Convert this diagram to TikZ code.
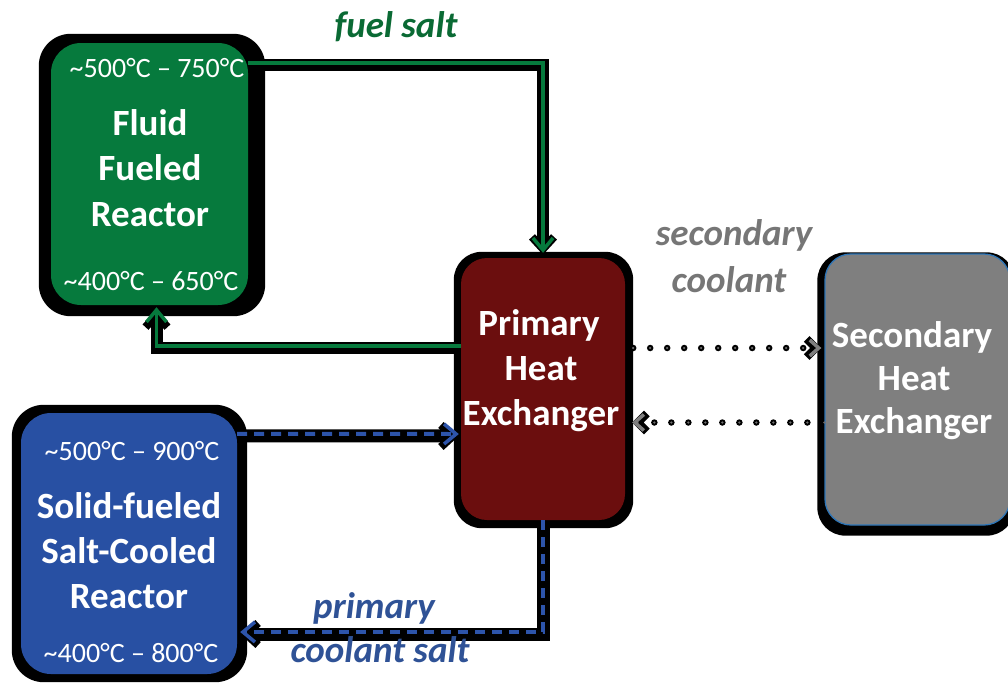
\documentclass[tikz,border=0pt]{standalone}
\usepackage{fontspec}
\setmainfont{Carlito}
\usetikzlibrary{calc,arrows.meta}
\pgfdeclarelayer{bg}
\pgfsetlayers{bg,main}
\definecolor{ffgreen}{RGB}{6,122,61}
\definecolor{lblgreen}{RGB}{10,106,52}
\definecolor{hxred}{RGB}{107,14,14}
\definecolor{sfblue}{RGB}{40,80,163}
\definecolor{lnblue}{RGB}{45,84,170}
\definecolor{lblblue}{RGB}{47,82,150}
\definecolor{hxgray}{RGB}{127,127,127}
\definecolor{lblgray}{RGB}{118,118,118}
\definecolor{bordblue}{RGB}{46,117,182}
\definecolor{dotgray}{RGB}{110,110,110}
\tikzset{
  box/.style={rectangle, rounded corners=30pt, inner sep=0pt},
  ttl/.style={anchor=base, text=white, inner sep=0pt, font=\bfseries\fontsize{37}{44}\selectfont},
  tmp/.style={anchor=base, text=white, inner sep=0pt, font=\fontsize{28}{33}\selectfont},
  lbl/.style={anchor=base, inner sep=0pt, font=\bfseries\itshape\fontsize{37}{44}\selectfont},
  shd/.style={draw=black, line width=12pt, transform canvas={yshift=-2pt}},
  solidtip/.style={-{Straight Barb[length=12pt,width=20pt,line width=3.5pt]}},
  shdtip/.style={-{Straight Barb[length=12pt,width=22pt,line width=8pt]}},
  gline/.style={draw=ffgreen, line width=3.5pt, solidtip},
  bline/.style={draw=lnblue, line width=4pt, dash pattern=on 10pt off 7pt, solidtip},
  dshd/.style={draw=black, line width=6.5pt, line cap=round, dash pattern=on 0pt off 17pt,
    -{Straight Barb[length=9pt,width=18pt,line width=8pt]}},
  dline/.style={draw=dotgray, line width=2.5pt, line cap=round, dash pattern=on 0pt off 17pt,
    -{Straight Barb[length=9pt,width=16pt,line width=3.5pt,color=hxgray]}},
}
\begin{document}
\begin{tikzpicture}[x=1pt,y=-1pt]
\useasboundingbox (0,0) rectangle (1008,683);

% boxes
\node[box, fill=ffgreen, minimum width=197pt, minimum height=262pt] (green) at (149.5,174) {};
\node[box, fill=hxred, rounded corners=26pt, minimum width=164pt, minimum height=262pt] (red) at (543,389) {};
\node[box, fill=sfblue, minimum width=216pt, minimum height=261pt] (blue) at (129,543.5) {};
\node[box, fill=hxgray, draw=bordblue, line width=1.3pt, rounded corners=26pt, minimum width=185pt, minimum height=271pt] (gray) at (917.5,389.5) {};

% texts in boxes
\node[tmp] (gt) at (157,77) {\textasciitilde500°C – 750°C};
\node[ttl] (g1) at (150,135) {Fluid};
\node[ttl] (g2) at (150,180) {Fueled};
\node[ttl] (g3) at (150,226) {Reactor};
\node[tmp] (gb) at (151,290) {\textasciitilde400°C – 650°C};

\node[ttl] (r1) at (539,335) {Primary};
\node[ttl] (r2) at (541,380) {Heat};
\node[ttl] (r3) at (541,425) {Exchanger};

\node[tmp] (bt) at (132,460) {\textasciitilde500°C – 900°C};
\node[ttl] (b1) at (129,518) {Solid-fueled};
\node[ttl] (b2) at (129,563) {Salt-Cooled};
\node[ttl] (b3) at (129,608) {Reactor};
\node[tmp] (bb) at (131,662) {\textasciitilde400°C – 800°C};

\node[ttl] (s1) at (912,347) {Secondary};
\node[ttl] (s2) at (914,390) {Heat};
\node[ttl] (s3) at (914,433) {Exchanger};

% labels
\node[lbl, text=lblgreen] (lfuel) at (396,37) {fuel salt};
\node[lbl, text=lblgray] (lsec1) at (734,245) {secondary};
\node[lbl, text=lblgray] (lsec2) at (729,292) {coolant};
\node[lbl, text=lblblue] (lpri1) at (374,618) {primary};
\node[lbl, text=lblblue] (lpri2) at (380,662) {coolant salt};

% shadows
\begin{pgfonlayer}{bg}
\fill[black, rounded corners=32pt] ($(green.north west)+(-12,-9)$) rectangle ($(green.south east)+(17,11)$);
\fill[black, rounded corners=28pt] ($(red.north west)+(-7,-6)$) rectangle ($(red.south east)+(8,8)$);
\fill[black, rounded corners=32pt] ($(blue.north west)+(-9,-8)$) rectangle ($(blue.south east)+(10,8)$);
\fill[black, rounded corners=28pt] ($(gray.north west)+(-7,-1)$) rectangle ($(gray.south east)+(4,10)$);

\draw[shd, shdtip] ($(green.north east)+(0,20)$) -| ([yshift=5pt]red.north);
\draw[shd, shdtip] ($(red.west)+(0,-43)$) -| ($(green.south)+(7,2)$);
\draw[shd, line width=13pt, shdtip] ($(blue.north east)+(0,21)$) -- ($(red.west)+(-2,45)$);
\draw[shd, line width=13pt, shdtip] (red.south) |- ($(blue.east)+(3,88.5)$);
\draw[dshd] ($(red.east)+(8,-41)$) -- ($(gray.west)+(-3,-41.5)$);
\draw[dshd] ($(gray.west)+(0,33)$) -- ($(red.east)+(7,33.5)$);
\end{pgfonlayer}

% connectors
\draw[gline] ($(green.north east)+(0,20)$) -| ([yshift=5pt]red.north);
\draw[gline] ($(red.west)+(0,-43)$) -| ($(green.south)+(7,2)$);
\draw[bline] ($(blue.north east)+(0,21)$) -- ($(red.west)+(-2,45)$);
\draw[bline] (red.south) |- ($(blue.east)+(3,88.5)$);
\draw[dline] ($(red.east)+(8,-41)$) -- ($(gray.west)+(-3,-41.5)$);
\draw[dline] ($(gray.west)+(0,33)$) -- ($(red.east)+(7,33.5)$);
\end{tikzpicture}
\end{document}
